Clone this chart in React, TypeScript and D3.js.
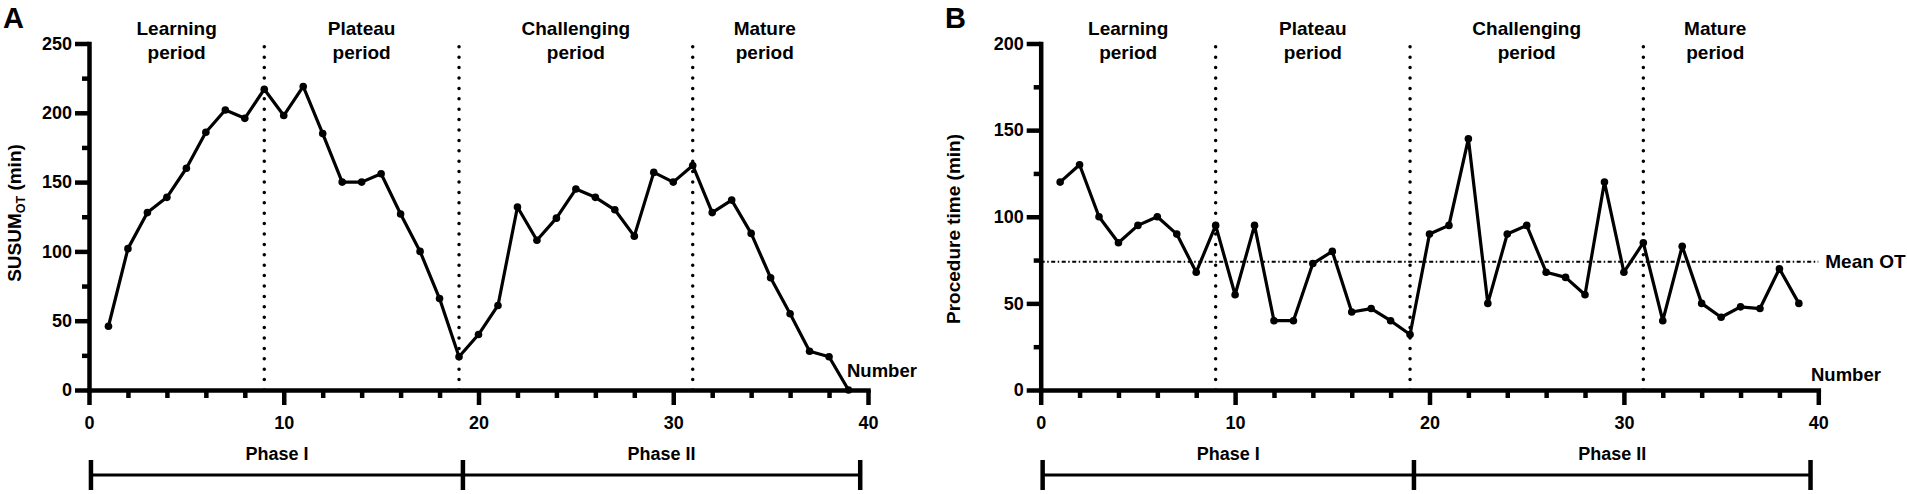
import React, { useEffect, useRef } from "react";
import * as d3 from "d3";

// case number 1..39
const caseNumber = [
  1, 2, 3, 4, 5, 6, 7, 8, 9, 10, 11, 12, 13, 14, 15, 16, 17, 18, 19, 20,
  21, 22, 23, 24, 25, 26, 27, 28, 29, 30, 31, 32, 33, 34, 35, 36, 37, 38, 39,
];

// panel A: cumulative SUSUM of operative time
const susumOT = [
  46, 102, 128, 139, 160, 186, 202, 196, 217, 198, 219, 185, 150, 150, 156,
  127, 100, 66, 24, 40, 61, 132, 108, 124, 145, 139, 130, 111, 157, 150, 162,
  128, 137, 113, 81, 55, 28, 24, 0,
];

// panel B: procedure time per case
const procedureTime = [
  120, 130, 100, 85, 95, 100, 90, 68, 95, 55, 95, 40, 40, 73, 80, 45, 47, 40,
  32, 90, 95, 145, 50, 90, 95, 68, 65, 55, 120, 68, 85, 40, 83, 50, 42, 48, 47,
  70, 50,
];
const meanOT = 74;

const periodBreaks = [9, 19, 31];
const periodCenters = [4.5, 14, 25, 34.7];
const periodLabels = [
  ["Learning", "period"],
  ["Plateau", "period"],
  ["Challenging", "period"],
  ["Mature", "period"],
];

const phaseBounds = [0.1, 19.2, 39.6];
const phaseLabels = ["Phase I", "Phase II"];

const xTicks = [0, 10, 20, 30, 40];
const xMinorTicks = [2, 4, 6, 8, 12, 14, 16, 18, 22, 24, 26, 28, 32, 34, 36, 38];
const yTicksA = [0, 50, 100, 150, 200, 250];
const yMinorA = [25, 75, 125, 175, 225];
const yTicksB = [0, 50, 100, 150, 200];
const yMinorB = [25, 75, 125, 175];

const FONT = "'Liberation Sans', Arial, Helvetica, sans-serif";

interface PanelProps {
  letter: string;
  letterX: number;
  left: number;
  right: number;
  yMax: number;
  yTicks: number[];
  yMinor: number[];
  values: number[];
  titleX: number;
  titleY: number;
  subscript: boolean;
  numberX: number;
  numberY: number;
  mean?: number;
}

const drawPanel = (svg: d3.Selection<SVGSVGElement, unknown, null, undefined>, p: PanelProps) => {
  const top = 43.5;
  const bottom = 390;
  const x = d3.scaleLinear().domain([0, 40]).range([p.left, p.right]);
  const y = d3.scaleLinear().domain([0, p.yMax]).range([bottom, top]);

  const g = svg.append("g");

  // period separators
  g.selectAll(".sep")
    .data(periodBreaks)
    .enter()
    .append("line")
    .attr("x1", (d) => x(d))
    .attr("x2", (d) => x(d))
    .attr("y1", y(0))
    .attr("y2", y(p.yMax))
    .attr("stroke", "#000")
    .attr("stroke-width", 3.5)
    .attr("stroke-linecap", "round")
    .attr("stroke-dasharray", "0 10.4");

  // mean line
  if (p.mean !== undefined) {
    g.append("line")
      .attr("x1", x(0))
      .attr("x2", x(40))
      .attr("y1", y(p.mean))
      .attr("y2", y(p.mean))
      .attr("stroke", "#000")
      .attr("stroke-width", 2)
      .attr("stroke-dasharray", "4 2.5 1.5 2.5");
    g.append("text")
      .attr("x", x(40) + 7)
      .attr("y", y(p.mean) + 6.5)
      .attr("font-family", FONT)
      .attr("font-weight", "bold")
      .attr("font-size", 19)
      .text("Mean OT");
  }

  // axes
  const styleAxis = (sel: any) => {
    sel.selectAll("path").attr("stroke-width", 4.5).attr("stroke-linecap", "square");
    sel.selectAll("line").attr("stroke-width", 4.5);
    sel.selectAll("text")
      .attr("font-family", FONT)
      .attr("font-weight", "bold")
      .attr("font-size", 18)
      .attr("fill", "#000");
  };

  g.append("g")
    .attr("transform", `translate(0,${bottom})`)
    .call(d3.axisBottom(x).tickValues(xMinorTicks).tickSize(8).tickFormat(() => ""))
    .call((s) => s.select(".domain").remove())
    .call(styleAxis);
  g.append("g")
    .attr("transform", `translate(0,${bottom})`)
    .call(d3.axisBottom(x).tickValues(xTicks).tickSize(15).tickSizeOuter(0).tickPadding(11))
    .call(styleAxis);

  g.append("g")
    .attr("transform", `translate(${p.left},0)`)
    .call(d3.axisLeft(y).tickValues(p.yMinor).tickSize(7).tickFormat(() => ""))
    .call((s) => s.select(".domain").remove())
    .call(styleAxis);
  g.append("g")
    .attr("transform", `translate(${p.left},0)`)
    .call(d3.axisLeft(y).tickValues(p.yTicks).tickSize(14).tickSizeOuter(0).tickPadding(3))
    .call(styleAxis);

  // data line + markers
  const line = d3
    .line<number>()
    .x((_, i) => x(caseNumber[i]))
    .y((d) => y(d));
  g.append("path")
    .datum(p.values)
    .attr("d", line)
    .attr("fill", "none")
    .attr("stroke", "#000")
    .attr("stroke-width", 3.2)
    .attr("stroke-linejoin", "round");
  g.selectAll(".pt")
    .data(p.values)
    .enter()
    .append("circle")
    .attr("cx", (_, i) => x(caseNumber[i]))
    .attr("cy", (d) => y(d))
    .attr("r", 3.8)
    .attr("fill", "#000");

  // period labels
  const pl = g
    .selectAll(".period")
    .data(periodLabels)
    .enter()
    .append("text")
    .attr("text-anchor", "middle")
    .attr("font-family", FONT)
    .attr("font-weight", "bold")
    .attr("font-size", 19);
  pl.append("tspan")
    .attr("x", (_, i) => x(periodCenters[i]))
    .attr("y", 35)
    .text((d) => d[0]);
  pl.append("tspan")
    .attr("x", (_, i) => x(periodCenters[i]))
    .attr("y", 58.5)
    .text((d) => d[1]);

  // y title
  const title = g
    .append("text")
    .attr("transform", `translate(${p.titleX},${p.titleY}) rotate(-90)`)
    .attr("text-anchor", "middle")
    .attr("font-family", FONT)
    .attr("font-weight", "bold")
    .attr("font-size", 19);
  if (p.subscript) {
    title.append("tspan").text("SUSUM");
    title.append("tspan").attr("font-size", 12.5).attr("dy", 4).text("OT");
    title.append("tspan").attr("dy", -4).text(" (min)");
  } else {
    title.text("Procedure time (min)");
  }

  // x title
  g.append("text")
    .attr("x", p.numberX)
    .attr("y", p.numberY)
    .attr("font-family", FONT)
    .attr("font-weight", "bold")
    .attr("font-size", 18.5)
    .text("Number");

  // panel letter
  g.append("text")
    .attr("x", p.letterX)
    .attr("y", 28)
    .attr("font-family", FONT)
    .attr("font-weight", "bold")
    .attr("font-size", 29)
    .text(p.letter);

  // phase bar
  const barY = 475;
  g.append("line")
    .attr("x1", x(phaseBounds[0]))
    .attr("x2", x(phaseBounds[phaseBounds.length - 1]))
    .attr("y1", barY)
    .attr("y2", barY)
    .attr("stroke", "#000")
    .attr("stroke-width", 3.2);
  g.selectAll(".phtick")
    .data(phaseBounds)
    .enter()
    .append("line")
    .attr("x1", (d) => x(d))
    .attr("x2", (d) => x(d))
    .attr("y1", barY - 15)
    .attr("y2", barY + 15)
    .attr("stroke", "#000")
    .attr("stroke-width", 4.5);
  g.selectAll(".phlabel")
    .data(phaseLabels)
    .enter()
    .append("text")
    .attr("x", (_, i) => (x(phaseBounds[i]) + x(phaseBounds[i + 1])) / 2)
    .attr("y", 460)
    .attr("text-anchor", "middle")
    .attr("font-family", FONT)
    .attr("font-weight", "bold")
    .attr("font-size", 18)
    .text((d) => d);
};

const App: React.FC = () => {
  const svgRef = useRef<SVGSVGElement>(null);

  useEffect(() => {
    const svg = d3.select(svgRef.current!);
    svg.selectAll("*").remove();

    drawPanel(svg as any, {
      letter: "A",
      letterX: 3,
      left: 89,
      right: 868,
      yMax: 250,
      yTicks: yTicksA,
      yMinor: yMinorA,
      values: susumOT,
      titleX: 21,
      titleY: 213,
      subscript: true,
      numberX: 847,
      numberY: 377,
    });

    drawPanel(svg as any, {
      letter: "B",
      letterX: 945,
      left: 1040.7,
      right: 1818.3,
      yMax: 200,
      yTicks: yTicksB,
      yMinor: yMinorB,
      values: procedureTime,
      titleX: 960,
      titleY: 229,
      subscript: false,
      numberX: 1811,
      numberY: 381,
      mean: meanOT,
    });
  }, []);

  return (
    <svg
      ref={svgRef}
      width={1907}
      height={494}
      style={{ position: "absolute", left: 0, top: 0, background: "#fff" }}
    />
  );
};

export default App;
